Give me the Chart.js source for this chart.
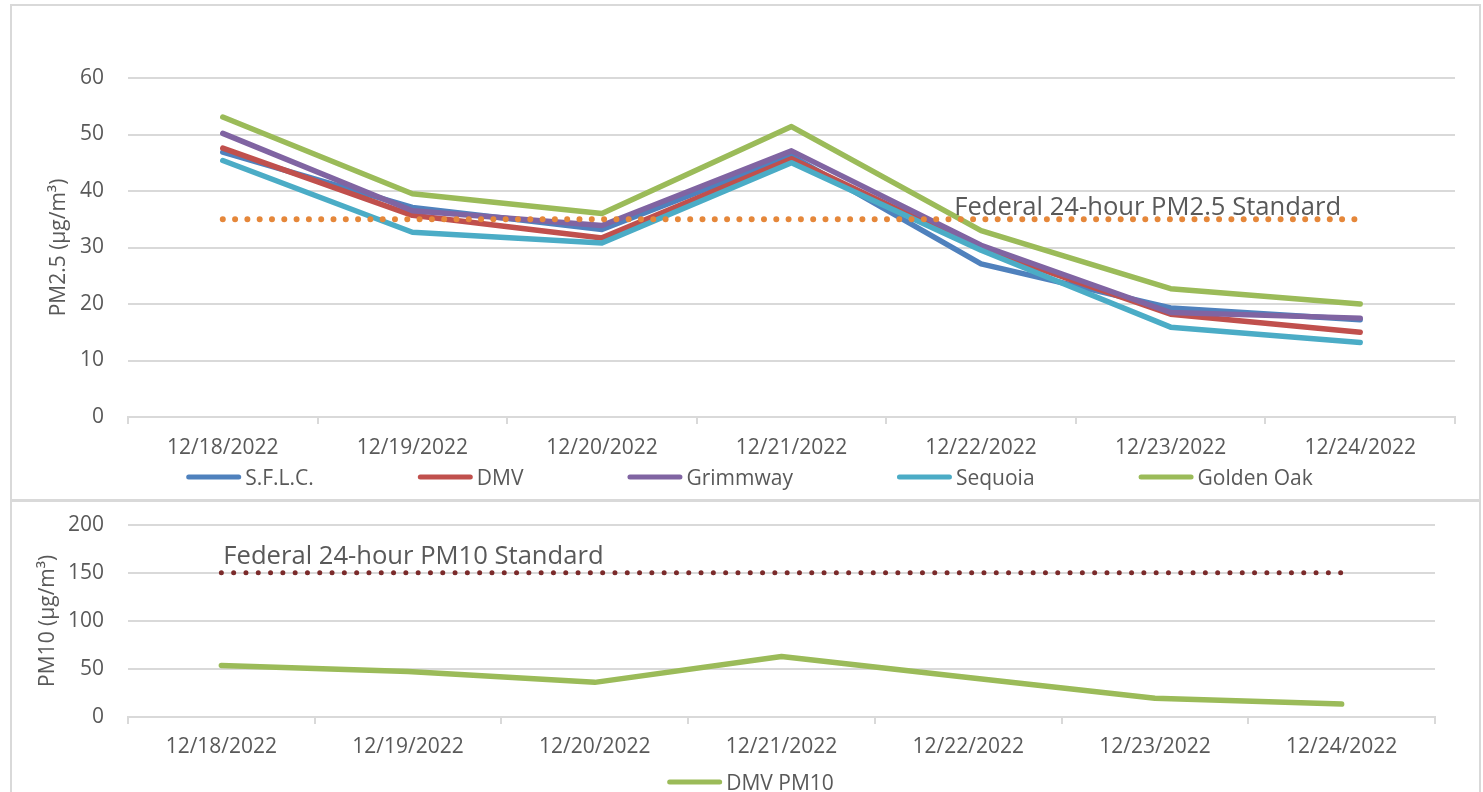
<!DOCTYPE html>
<html><head><meta charset="utf-8">
<script src="https://cdn.jsdelivr.net/npm/chart.js@4.4.1/dist/chart.umd.min.js"></script>
<style>
body{margin:0;background:#fff;width:1483px;height:792px;overflow:hidden;position:relative;font-family:'Open Sans'}
.frame{position:absolute;box-sizing:border-box;border:2px solid #d9d9d9}
canvas{position:absolute;left:0}
</style></head><body>
<div class="frame" style="left:10px;top:4px;width:1471px;height:497px"></div>
<div class="frame" style="left:10px;top:500px;width:1471px;height:300px"></div>
<canvas id="c1" width="1483" height="500" style="top:0"></canvas>
<canvas id="c2" width="1483" height="304" style="top:488px"></canvas>
<script>
// ---- data ----
const dates = ['12/18/2022','12/19/2022','12/20/2022','12/21/2022','12/22/2022','12/23/2022','12/24/2022'];
const sflc      = [46.9, 37.1, 33.2, 46.2, 27.1, 19.3, 17.2];
const dmv       = [47.6, 35.7, 31.7, 45.7, 29.8, 18.2, 15.0];
const grimmway  = [50.2, 36.5, 33.9, 47.1, 30.4, 18.5, 17.5];
const sequoia   = [45.4, 32.7, 30.8, 45.0, 29.5, 15.9, 13.2];
const goldenOak = [53.1, 39.5, 36.0, 51.4, 33.0, 22.7, 20.0];
const dmvPm10   = [53.6, 47.4, 36.0, 62.9, 41.0, 19.6, 13.4];
const pm25Standard = 35;
const pm10Standard = 150;
const pm25Axis = {min: 0, max: 60, step: 10};
const pm10Axis = {min: 0, max: 200, step: 50};
const pm25Note = 'Federal 24-hour PM2.5 Standard';
const pm10Note = 'Federal 24-hour PM10 Standard';

Chart.defaults.font.family = "'Open Sans'";
Chart.defaults.font.size = 21;
Chart.defaults.color = '#595959';

const overlay = {
  id: 'overlay',
  afterDraw(chart, args, o) {
    const ctx = chart.ctx, xs = chart.scales.x, ys = chart.scales.y;
    ctx.save();
    // annotation text
    ctx.font = "25.6px 'Open Sans'";
    ctx.fillStyle = '#595959';
    ctx.textAlign = o.noteAlign;
    ctx.textBaseline = 'alphabetic';
    ctx.fillText(o.note, xs.getPixelForValue(o.noteIndex) + o.noteDx, ys.getPixelForValue(o.noteValue) + o.noteDy);
    // legend
    ctx.font = "21px 'Open Sans'";
    const items = chart.data.datasets.filter(d => !d.isStandard);
    const lineLen = 55, gapText = 4, gapItem = 104;
    const widths = items.map(d => lineLen + gapText + ctx.measureText(d.label).width);
    const total = widths.reduce((a, b) => a + b, 0) + gapItem * (items.length - 1);
    let x0 = o.legendCenter - total / 2;
    ctx.textAlign = 'left';
    items.forEach((d, i) => {
      ctx.strokeStyle = d.borderColor;
      ctx.lineWidth = 5;
      ctx.lineCap = 'round';
      ctx.beginPath();
      ctx.moveTo(x0 + 2.5, o.legendY);
      ctx.lineTo(x0 + lineLen - 2.5, o.legendY);
      ctx.stroke();
      ctx.fillStyle = '#595959';
      ctx.fillText(d.label, x0 + lineLen + gapText, o.legendY + 8);
      x0 += widths[i] + gapItem;
    });
    ctx.restore();
  }
};

function series(label, data, color) {
  return {label, data, borderColor: color, backgroundColor: color, borderWidth: 5.5,
    pointRadius: 0, tension: 0, borderJoinStyle: 'round', borderCapStyle: 'round', fill: false};
}
function standard(value, color, width) {
  return {label: 'std', isStandard: true, data: dates.map(() => value), borderColor: color,
    borderWidth: width, borderDash: [0, 12.3], borderCapStyle: 'round', pointRadius: 0, order: 0, fill: false};
}
function scales(axis, yTitle, yTitlePad, yWidth, xHeight, tickPad) {
  return {
    x: {
      offset: true,
      grid: {offset: true, drawOnChartArea: false, drawTicks: true, tickLength: 7, color: '#d9d9d9', lineWidth: 2},
      border: {display: true, color: '#d9d9d9', width: 2},
      ticks: {padding: tickPad, maxRotation: 0, autoSkip: false},
      afterFit: s => { s.height = xHeight; }
    },
    y: {
      min: axis.min, max: axis.max,
      grid: {color: '#d9d9d9', lineWidth: 2, drawTicks: false},
      border: {display: false},
      ticks: {stepSize: axis.step, padding: 24},
      title: {display: true, text: yTitle, padding: {top: yTitlePad, bottom: 0}},
      afterFit: s => { s.width = yWidth; }
    }
  };
}

new Chart(document.getElementById('c1'), {
  type: 'line',
  data: {
    labels: dates,
    datasets: [
      standard(pm25Standard, '#E5873A', 6),
      Object.assign(series('S.F.L.C.', sflc, '#4F81BD'), {order: 5}),
      Object.assign(series('DMV', dmv, '#C0504D'), {order: 4}),
      Object.assign(series('Grimmway', grimmway, '#8064A2'), {order: 3}),
      Object.assign(series('Sequoia', sequoia, '#4BACC6'), {order: 2}),
      Object.assign(series('Golden Oak', goldenOak, '#9BBB59'), {order: 1})
    ]
  },
  options: {
    responsive: false, animation: false,
    layout: {padding: {left: 0, right: 28, top: 78, bottom: 0}},
    plugins: {
      legend: {display: false}, tooltip: {enabled: false},
      overlay: {note: pm25Note, noteAlign: 'right', noteIndex: 6, noteValue: pm25Standard, noteDx: -19, noteDy: -4,
        legendCenter: 749.5, legendY: 477}
    },
    scales: scales(pm25Axis, 'PM2.5 (µg/m³)', 46, 128, 83, 11)
  },
  plugins: [overlay]
});

new Chart(document.getElementById('c2'), {
  type: 'line',
  data: {
    labels: dates,
    datasets: [
      standard(pm10Standard, '#7B2B2B', 5),
      Object.assign(series('DMV PM10', dmvPm10, '#9BBB59'), {order: 1})
    ]
  },
  options: {
    responsive: false, animation: false,
    layout: {padding: {left: 0, right: 48, top: 35, bottom: 0}},
    plugins: {
      legend: {display: false}, tooltip: {enabled: false},
      overlay: {note: pm10Note, noteAlign: 'left', noteIndex: 0, noteValue: pm10Standard, noteDx: 2, noteDy: -9,
        legendCenter: 750.5, legendY: 294}
    },
    scales: scales(pm10Axis, 'PM10 (µg/m³)', 35, 128, 75, 10)
  },
  plugins: [overlay]
});
</script>
</body></html>
